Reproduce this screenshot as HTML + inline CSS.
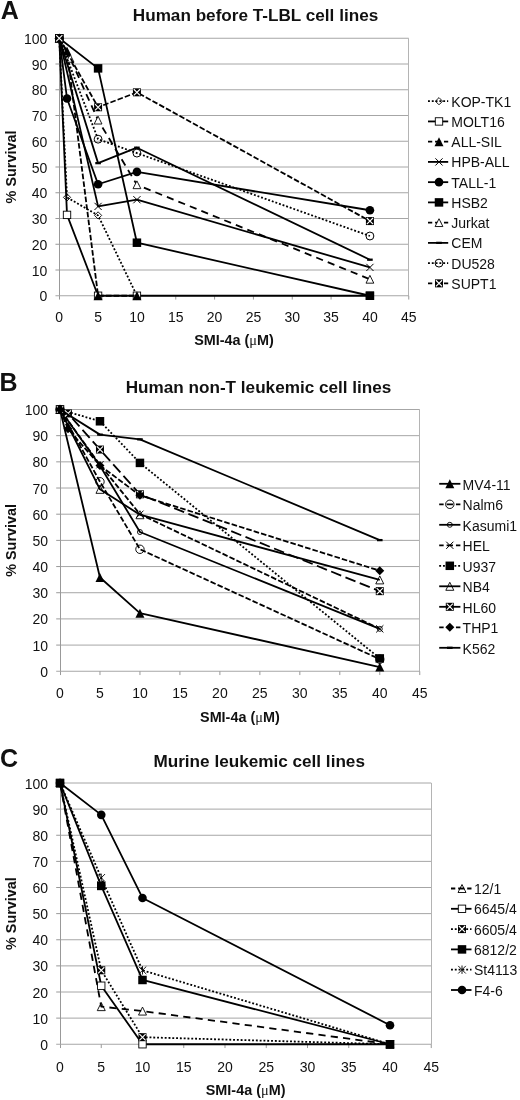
<!DOCTYPE html>
<html lang="en">
<head>
<meta charset="utf-8">
<title>SMI-4a survival curves</title>
<style>
html,body{margin:0;padding:0;background:#fff;}
body{width:520px;height:1100px;overflow:hidden;font-family:"Liberation Sans",sans-serif;}
svg{display:block;will-change:transform;}
text{font-family:"Liberation Sans",sans-serif;fill:#111;}
.tk{font-size:14px;}
.lg{font-size:14px;}
.at{font-size:14.4px;font-weight:bold;}
.mu{font-family:"Liberation Serif",serif;font-weight:normal;}
.tt{font-size:17.15px;font-weight:bold;}
.pl{font-size:25px;font-weight:bold;}
</style>
</head>
<body>
<svg width="520" height="1100" viewBox="0 0 520 1100">
<rect width="520" height="1100" fill="#fff"/>
<g><path d="M59.25 270H408.75" stroke="#a6a6a6" stroke-width="1" fill="none"/>
<path d="M59.25 244.25H408.75" stroke="#a6a6a6" stroke-width="1" fill="none"/>
<path d="M59.25 218.5H408.75" stroke="#a6a6a6" stroke-width="1" fill="none"/>
<path d="M59.25 192.75H408.75" stroke="#a6a6a6" stroke-width="1" fill="none"/>
<path d="M59.25 167H408.75" stroke="#a6a6a6" stroke-width="1" fill="none"/>
<path d="M59.25 141.25H408.75" stroke="#a6a6a6" stroke-width="1" fill="none"/>
<path d="M59.25 115.5H408.75" stroke="#a6a6a6" stroke-width="1" fill="none"/>
<path d="M59.25 89.75H408.75" stroke="#a6a6a6" stroke-width="1" fill="none"/>
<path d="M59.25 64H408.75" stroke="#a6a6a6" stroke-width="1" fill="none"/>
<path d="M59.25 38.25H408.75" stroke="#a6a6a6" stroke-width="1" fill="none"/>
<path d="M408.5 38.25V295.75" stroke="#b4b4b4" stroke-width="1" fill="none"/>
<path d="M59.5 38.25V299.55" stroke="#999999" stroke-width="1" fill="none"/>
<path d="M55.45 295.75H408.75" stroke="#a6a6a6" stroke-width="1.1" fill="none"/>
<path d="M55.45 270H59.25M55.45 244.25H59.25M55.45 218.5H59.25M55.45 192.75H59.25M55.45 167H59.25M55.45 141.25H59.25M55.45 115.5H59.25M55.45 89.75H59.25M55.45 64H59.25M55.45 38.25H59.25M98.08 295.75V299.55M136.92 295.75V299.55M175.75 295.75V299.55M214.58 295.75V299.55M253.42 295.75V299.55M292.25 295.75V299.55M331.08 295.75V299.55M369.92 295.75V299.55M408.75 295.75V299.55" stroke="#999999" stroke-width="1" fill="none"/>
<text x="47.35" y="301.35" text-anchor="end" class="tk">0</text>
<text x="47.35" y="275.6" text-anchor="end" class="tk">10</text>
<text x="47.35" y="249.85" text-anchor="end" class="tk">20</text>
<text x="47.35" y="224.1" text-anchor="end" class="tk">30</text>
<text x="47.35" y="198.35" text-anchor="end" class="tk">40</text>
<text x="47.35" y="172.6" text-anchor="end" class="tk">50</text>
<text x="47.35" y="146.85" text-anchor="end" class="tk">60</text>
<text x="47.35" y="121.1" text-anchor="end" class="tk">70</text>
<text x="47.35" y="95.35" text-anchor="end" class="tk">80</text>
<text x="47.35" y="69.6" text-anchor="end" class="tk">90</text>
<text x="47.35" y="43.85" text-anchor="end" class="tk">100</text>
<text x="59.25" y="322.35" text-anchor="middle" class="tk">0</text>
<text x="98.08" y="322.35" text-anchor="middle" class="tk">5</text>
<text x="136.92" y="322.35" text-anchor="middle" class="tk">10</text>
<text x="175.75" y="322.35" text-anchor="middle" class="tk">15</text>
<text x="214.58" y="322.35" text-anchor="middle" class="tk">20</text>
<text x="253.42" y="322.35" text-anchor="middle" class="tk">25</text>
<text x="292.25" y="322.35" text-anchor="middle" class="tk">30</text>
<text x="331.08" y="322.35" text-anchor="middle" class="tk">35</text>
<text x="369.92" y="322.35" text-anchor="middle" class="tk">40</text>
<text x="408.75" y="322.35" text-anchor="middle" class="tk">45</text>
<text x="234" y="345.45" text-anchor="middle" class="at">SMI-4a (<tspan class="mu">μ</tspan>M)</text>
<text transform="translate(15.6 167) rotate(-90)" text-anchor="middle" class="at">% Survival</text>
<text x="255.5" y="21.3" text-anchor="middle" class="tt">Human before T-LBL cell lines</text>
<text x="0.8" y="18.6" class="pl">A</text>
<path d="M59.25 38.25L67.02 197.38L98.08 215.41L136.92 295.75" stroke="#000" stroke-width="1.8" fill="none" stroke-linejoin="round" stroke-dasharray="1.9 1.9"/>
<path d="M55.65 38.25L59.25 34.65L62.85 38.25L59.25 41.85Z" fill="none" stroke="#000" stroke-width="0.9"/>
<path d="M63.42 197.38L67.02 193.78L70.62 197.38L67.02 200.98Z" fill="none" stroke="#000" stroke-width="0.9"/>
<path d="M94.48 215.41L98.08 211.81L101.68 215.41L98.08 219.01Z" fill="none" stroke="#000" stroke-width="0.9"/>
<path d="M133.32 295.75L136.92 292.15L140.52 295.75L136.92 299.35Z" fill="none" stroke="#000" stroke-width="0.9"/>
<path d="M59.25 38.25L67.02 214.89L98.08 295.75L136.92 295.75L369.92 295.75" stroke="#000" stroke-width="1.8" fill="none" stroke-linejoin="round"/>
<rect x="55.55" y="34.55" width="7.4" height="7.4" fill="#fff" stroke="#000" stroke-width="0.9"/>
<rect x="63.32" y="211.19" width="7.4" height="7.4" fill="#fff" stroke="#000" stroke-width="0.9"/>
<rect x="94.38" y="292.05" width="7.4" height="7.4" fill="#fff" stroke="#000" stroke-width="0.9"/>
<rect x="133.22" y="292.05" width="7.4" height="7.4" fill="#fff" stroke="#000" stroke-width="0.9"/>
<rect x="366.22" y="292.05" width="7.4" height="7.4" fill="#fff" stroke="#000" stroke-width="0.9"/>
<path d="M59.25 38.25L67.02 51.12L98.08 295.75L136.92 295.75" stroke="#000" stroke-width="1.8" fill="none" stroke-linejoin="round" stroke-dasharray="5.6 2.1"/>
<path d="M59.25 33.75L63.75 42.75L54.75 42.75Z" fill="#000"/>
<path d="M67.02 46.62L71.52 55.62L62.52 55.62Z" fill="#000"/>
<path d="M98.08 291.25L102.58 300.25L93.58 300.25Z" fill="#000"/>
<path d="M136.92 291.25L141.42 300.25L132.42 300.25Z" fill="#000"/>
<path d="M59.25 38.25L98.08 206.4L136.92 199.7L369.92 267.43" stroke="#000" stroke-width="1.8" fill="none" stroke-linejoin="round"/>
<path d="M55.65 34.65L62.85 41.85M55.65 41.85L62.85 34.65" stroke="#000" stroke-width="1" fill="none"/>
<path d="M94.48 202.8L101.68 210M94.48 210L101.68 202.8" stroke="#000" stroke-width="1" fill="none"/>
<path d="M133.32 196.1L140.52 203.3M133.32 203.3L140.52 196.1" stroke="#000" stroke-width="1" fill="none"/>
<path d="M366.32 263.82L373.52 271.03M366.32 271.03L373.52 263.82" stroke="#000" stroke-width="1" fill="none"/>
<path d="M59.25 38.25L67.02 98.5L98.08 184.25L136.92 171.89L369.92 210.26" stroke="#000" stroke-width="1.8" fill="none" stroke-linejoin="round"/>
<circle cx="59.25" cy="38.25" r="4.3" fill="#000"/>
<circle cx="67.02" cy="98.5" r="4.3" fill="#000"/>
<circle cx="98.08" cy="184.25" r="4.3" fill="#000"/>
<circle cx="136.92" cy="171.89" r="4.3" fill="#000"/>
<circle cx="369.92" cy="210.26" r="4.3" fill="#000"/>
<path d="M59.25 38.25L98.08 68.38L136.92 242.7L369.92 295.75" stroke="#000" stroke-width="1.8" fill="none" stroke-linejoin="round"/>
<rect x="55" y="34" width="8.5" height="8.5" fill="#000"/>
<rect x="93.83" y="64.13" width="8.5" height="8.5" fill="#000"/>
<rect x="132.67" y="238.45" width="8.5" height="8.5" fill="#000"/>
<rect x="365.67" y="291.5" width="8.5" height="8.5" fill="#000"/>
<path d="M59.25 38.25L70.12 58.33L98.08 120.13L136.92 184.77L369.92 279.27" stroke="#000" stroke-width="1.8" fill="none" stroke-linejoin="round" stroke-dasharray="7.2 5.2"/>
<path d="M59.25 34.35L63.15 42.15L55.35 42.15Z" fill="#fff" stroke="#000" stroke-width="0.9"/>
<path d="M70.12 54.43L74.02 62.23L66.22 62.23Z" fill="#fff" stroke="#000" stroke-width="0.9"/>
<path d="M98.08 116.23L101.98 124.03L94.18 124.03Z" fill="#fff" stroke="#000" stroke-width="0.9"/>
<path d="M136.92 180.87L140.82 188.67L133.02 188.67Z" fill="#fff" stroke="#000" stroke-width="0.9"/>
<path d="M369.92 275.37L373.82 283.17L366.02 283.17Z" fill="#fff" stroke="#000" stroke-width="0.9"/>
<path d="M59.25 38.25L98.08 163.14L136.92 147.69L369.92 259.7" stroke="#000" stroke-width="1.8" fill="none" stroke-linejoin="round"/>
<path d="M56.45 38.25L62.05 38.25" stroke="#000" stroke-width="2.3" fill="none"/>
<path d="M95.28 163.14L100.88 163.14" stroke="#000" stroke-width="2.3" fill="none"/>
<path d="M134.12 147.69L139.72 147.69" stroke="#000" stroke-width="2.3" fill="none"/>
<path d="M367.12 259.7L372.72 259.7" stroke="#000" stroke-width="2.3" fill="none"/>
<path d="M59.25 38.25L98.08 139.19L136.92 153.09L369.92 236.01" stroke="#000" stroke-width="1.8" fill="none" stroke-linejoin="round" stroke-dasharray="1.9 1.9"/>
<circle cx="59.25" cy="38.25" r="3.95" fill="none" stroke="#000" stroke-width="1"/>
<circle cx="98.08" cy="139.19" r="3.95" fill="none" stroke="#000" stroke-width="1"/>
<circle cx="136.92" cy="153.09" r="3.95" fill="none" stroke="#000" stroke-width="1"/>
<circle cx="369.92" cy="236.01" r="3.95" fill="none" stroke="#000" stroke-width="1"/>
<path d="M59.25 38.25L98.08 107.26L136.92 92.32L369.92 221.07" stroke="#000" stroke-width="1.8" fill="none" stroke-linejoin="round" stroke-dasharray="5.6 2.1"/>
<rect x="55.25" y="34.25" width="8" height="8" fill="#000"/><path d="M56.15 35.15L62.35 41.35M56.15 41.35L62.35 35.15" stroke="#fff" stroke-width="1.15" fill="none"/>
<rect x="94.08" y="103.26" width="8" height="8" fill="#000"/><path d="M94.98 104.16L101.18 110.36M94.98 110.36L101.18 104.16" stroke="#fff" stroke-width="1.15" fill="none"/>
<rect x="132.92" y="88.32" width="8" height="8" fill="#000"/><path d="M133.82 89.22L140.02 95.42M133.82 95.42L140.02 89.22" stroke="#fff" stroke-width="1.15" fill="none"/>
<rect x="365.92" y="217.07" width="8" height="8" fill="#000"/><path d="M366.82 217.97L373.02 224.17M366.82 224.17L373.02 217.97" stroke="#fff" stroke-width="1.15" fill="none"/>
<path d="M428 101.2H448.2" stroke="#000" stroke-width="1.8" fill="none" stroke-dasharray="1.9 1.9"/>
<path d="M435.4 101.2L439 97.6L442.6 101.2L439 104.8Z" fill="none" stroke="#000" stroke-width="0.9"/>
<text x="451.3" y="106.6" class="lg">KOP-TK1</text>
<path d="M428 121.44H448.2" stroke="#000" stroke-width="1.8" fill="none"/>
<rect x="435.3" y="117.74" width="7.4" height="7.4" fill="#fff" stroke="#000" stroke-width="0.9"/>
<text x="451.3" y="126.84" class="lg">MOLT16</text>
<path d="M428 141.68H448.2" stroke="#000" stroke-width="1.8" fill="none" stroke-dasharray="4.24 2.83 6.06 2.83 4.24"/>
<path d="M439 137.18L443.5 146.18L434.5 146.18Z" fill="#000"/>
<text x="451.3" y="147.08" class="lg">ALL-SIL</text>
<path d="M428 161.92H448.2" stroke="#000" stroke-width="1.8" fill="none"/>
<path d="M435.4 158.32L442.6 165.52M435.4 165.52L442.6 158.32" stroke="#000" stroke-width="1" fill="none"/>
<text x="451.3" y="167.32" class="lg">HPB-ALL</text>
<path d="M428 182.16H448.2" stroke="#000" stroke-width="1.8" fill="none"/>
<circle cx="439" cy="182.16" r="4.3" fill="#000"/>
<text x="451.3" y="187.56" class="lg">TALL-1</text>
<path d="M428 202.4H448.2" stroke="#000" stroke-width="1.8" fill="none"/>
<rect x="434.75" y="198.15" width="8.5" height="8.5" fill="#000"/>
<text x="451.3" y="207.8" class="lg">HSB2</text>
<path d="M428 222.64H448.2" stroke="#000" stroke-width="1.8" fill="none" stroke-dasharray="4.24 2.83 6.06 2.83 4.24"/>
<path d="M439 218.74L442.9 226.54L435.1 226.54Z" fill="#fff" stroke="#000" stroke-width="0.9"/>
<text x="451.3" y="228.04" class="lg">Jurkat</text>
<path d="M428 242.88H448.2" stroke="#000" stroke-width="1.8" fill="none"/>
<path d="M436.2 242.88L441.8 242.88" stroke="#000" stroke-width="2.3" fill="none"/>
<text x="451.3" y="248.28" class="lg">CEM</text>
<path d="M428 263.12H448.2" stroke="#000" stroke-width="1.8" fill="none" stroke-dasharray="1.9 1.9"/>
<circle cx="439" cy="263.12" r="3.95" fill="none" stroke="#000" stroke-width="1"/>
<text x="451.3" y="268.52" class="lg">DU528</text>
<path d="M428 283.36H448.2" stroke="#000" stroke-width="1.8" fill="none" stroke-dasharray="4.24 2.83 6.06 2.83 4.24"/>
<rect x="435" y="279.36" width="8" height="8" fill="#000"/><path d="M435.9 280.26L442.1 286.46M435.9 286.46L442.1 280.26" stroke="#fff" stroke-width="1.15" fill="none"/>
<text x="451.3" y="288.76" class="lg">SUPT1</text></g>
<g><path d="M60 645.08H419.75" stroke="#a6a6a6" stroke-width="1" fill="none"/>
<path d="M60 618.9H419.75" stroke="#a6a6a6" stroke-width="1" fill="none"/>
<path d="M60 592.73H419.75" stroke="#a6a6a6" stroke-width="1" fill="none"/>
<path d="M60 566.55H419.75" stroke="#a6a6a6" stroke-width="1" fill="none"/>
<path d="M60 540.38H419.75" stroke="#a6a6a6" stroke-width="1" fill="none"/>
<path d="M60 514.2H419.75" stroke="#a6a6a6" stroke-width="1" fill="none"/>
<path d="M60 488.02H419.75" stroke="#a6a6a6" stroke-width="1" fill="none"/>
<path d="M60 461.85H419.75" stroke="#a6a6a6" stroke-width="1" fill="none"/>
<path d="M60 435.67H419.75" stroke="#a6a6a6" stroke-width="1" fill="none"/>
<path d="M60 409.5H419.75" stroke="#a6a6a6" stroke-width="1" fill="none"/>
<path d="M419.5 409.5V671.25" stroke="#b4b4b4" stroke-width="1" fill="none"/>
<path d="M60.5 409.5V675.05" stroke="#999999" stroke-width="1" fill="none"/>
<path d="M56.2 671.25H419.75" stroke="#a6a6a6" stroke-width="1.1" fill="none"/>
<path d="M56.2 645.08H60M56.2 618.9H60M56.2 592.73H60M56.2 566.55H60M56.2 540.38H60M56.2 514.2H60M56.2 488.02H60M56.2 461.85H60M56.2 435.67H60M56.2 409.5H60M99.97 671.25V675.05M139.94 671.25V675.05M179.92 671.25V675.05M219.89 671.25V675.05M259.86 671.25V675.05M299.83 671.25V675.05M339.81 671.25V675.05M379.78 671.25V675.05M419.75 671.25V675.05" stroke="#999999" stroke-width="1" fill="none"/>
<text x="48.1" y="676.75" text-anchor="end" class="tk">0</text>
<text x="48.1" y="650.58" text-anchor="end" class="tk">10</text>
<text x="48.1" y="624.4" text-anchor="end" class="tk">20</text>
<text x="48.1" y="598.23" text-anchor="end" class="tk">30</text>
<text x="48.1" y="572.05" text-anchor="end" class="tk">40</text>
<text x="48.1" y="545.88" text-anchor="end" class="tk">50</text>
<text x="48.1" y="519.7" text-anchor="end" class="tk">60</text>
<text x="48.1" y="493.52" text-anchor="end" class="tk">70</text>
<text x="48.1" y="467.35" text-anchor="end" class="tk">80</text>
<text x="48.1" y="441.17" text-anchor="end" class="tk">90</text>
<text x="48.1" y="415" text-anchor="end" class="tk">100</text>
<text x="60" y="698.25" text-anchor="middle" class="tk">0</text>
<text x="99.97" y="698.25" text-anchor="middle" class="tk">5</text>
<text x="139.94" y="698.25" text-anchor="middle" class="tk">10</text>
<text x="179.92" y="698.25" text-anchor="middle" class="tk">15</text>
<text x="219.89" y="698.25" text-anchor="middle" class="tk">20</text>
<text x="259.86" y="698.25" text-anchor="middle" class="tk">25</text>
<text x="299.83" y="698.25" text-anchor="middle" class="tk">30</text>
<text x="339.81" y="698.25" text-anchor="middle" class="tk">35</text>
<text x="379.78" y="698.25" text-anchor="middle" class="tk">40</text>
<text x="419.75" y="698.25" text-anchor="middle" class="tk">45</text>
<text x="239.88" y="721.65" text-anchor="middle" class="at">SMI-4a (<tspan class="mu">μ</tspan>M)</text>
<text transform="translate(15.7 540.38) rotate(-90)" text-anchor="middle" class="at">% Survival</text>
<text x="258.5" y="392.8" text-anchor="middle" class="tt">Human non-T leukemic cell lines</text>
<text x="-0.5" y="391.2" class="pl">B</text>
<path d="M60 409.5L99.97 577.54L139.94 613.14L379.78 667.06" stroke="#000" stroke-width="1.8" fill="none" stroke-linejoin="round"/>
<path d="M60 405L64.5 414L55.5 414Z" fill="#000"/>
<path d="M99.97 573.04L104.47 582.04L95.47 582.04Z" fill="#000"/>
<path d="M139.94 608.64L144.44 617.64L135.44 617.64Z" fill="#000"/>
<path d="M379.78 662.56L384.28 671.56L375.28 671.56Z" fill="#000"/>
<path d="M60 409.5L99.97 481.74L139.94 549.27L379.78 659.21" stroke="#000" stroke-width="1.8" fill="none" stroke-linejoin="round" stroke-dasharray="5.6 2.1"/>
<circle cx="60" cy="409.5" r="4.2" fill="none" stroke="#000" stroke-width="0.95"/>
<circle cx="99.97" cy="481.74" r="4.2" fill="none" stroke="#000" stroke-width="0.95"/>
<circle cx="139.94" cy="549.27" r="4.2" fill="none" stroke="#000" stroke-width="0.95"/>
<circle cx="379.78" cy="659.21" r="4.2" fill="none" stroke="#000" stroke-width="0.95"/>
<path d="M60 409.5L99.97 465.78L139.94 532L379.78 628.85" stroke="#000" stroke-width="1.8" fill="none" stroke-linejoin="round"/>
<circle cx="60" cy="409.5" r="2.5" fill="none" stroke="#000" stroke-width="0.9"/>
<circle cx="99.97" cy="465.78" r="2.5" fill="none" stroke="#000" stroke-width="0.9"/>
<circle cx="139.94" cy="532" r="2.5" fill="none" stroke="#000" stroke-width="0.9"/>
<circle cx="379.78" cy="628.85" r="2.5" fill="none" stroke="#000" stroke-width="0.9"/>
<path d="M60 409.5L99.97 464.73L139.94 514.2L379.78 628.85" stroke="#000" stroke-width="1.8" fill="none" stroke-linejoin="round" stroke-dasharray="5.6 2.1"/>
<path d="M56.4 405.9L63.6 413.1M56.4 413.1L63.6 405.9" stroke="#000" stroke-width="1" fill="none"/>
<path d="M96.37 461.13L103.57 468.33M96.37 468.33L103.57 461.13" stroke="#000" stroke-width="1" fill="none"/>
<path d="M136.34 510.6L143.54 517.8M136.34 517.8L143.54 510.6" stroke="#000" stroke-width="1" fill="none"/>
<path d="M376.18 625.25L383.38 632.45M376.18 632.45L383.38 625.25" stroke="#000" stroke-width="1" fill="none"/>
<path d="M60 409.5L99.97 421.28L139.94 462.9L379.78 658.42" stroke="#000" stroke-width="1.8" fill="none" stroke-linejoin="round" stroke-dasharray="1.9 1.9"/>
<rect x="55.75" y="405.25" width="8.5" height="8.5" fill="#000"/>
<rect x="95.72" y="417.03" width="8.5" height="8.5" fill="#000"/>
<rect x="135.69" y="458.65" width="8.5" height="8.5" fill="#000"/>
<rect x="375.53" y="654.17" width="8.5" height="8.5" fill="#000"/>
<path d="M60 409.5L99.97 489.33L139.94 514.72L379.78 579.9" stroke="#000" stroke-width="1.8" fill="none" stroke-linejoin="round"/>
<path d="M60 405.5L64 413.5L56 413.5Z" fill="none" stroke="#000" stroke-width="0.9"/>
<path d="M99.97 485.33L103.97 493.33L95.97 493.33Z" fill="none" stroke="#000" stroke-width="0.9"/>
<path d="M139.94 510.72L143.94 518.72L135.94 518.72Z" fill="none" stroke="#000" stroke-width="0.9"/>
<path d="M379.78 575.9L383.78 583.9L375.78 583.9Z" fill="none" stroke="#000" stroke-width="0.9"/>
<path d="M60 409.5L67.99 413.43L99.97 449.55L139.94 494.31L379.78 591.15" stroke="#000" stroke-width="1.8" fill="none" stroke-linejoin="round" stroke-dasharray="10.8 4.6"/>
<rect x="56" y="405.5" width="8" height="8" fill="#000"/><path d="M56.9 406.4L63.1 412.6M56.9 412.6L63.1 406.4" stroke="#fff" stroke-width="1.15" fill="none"/>
<rect x="63.99" y="409.43" width="8" height="8" fill="#000"/><path d="M64.89 410.33L71.09 416.53M64.89 416.53L71.09 410.33" stroke="#fff" stroke-width="1.15" fill="none"/>
<rect x="95.97" y="445.55" width="8" height="8" fill="#000"/><path d="M96.87 446.45L103.07 452.65M96.87 452.65L103.07 446.45" stroke="#fff" stroke-width="1.15" fill="none"/>
<rect x="135.94" y="490.31" width="8" height="8" fill="#000"/><path d="M136.84 491.21L143.04 497.41M136.84 497.41L143.04 491.21" stroke="#fff" stroke-width="1.15" fill="none"/>
<rect x="375.78" y="587.15" width="8" height="8" fill="#000"/><path d="M376.68 588.05L382.88 594.25M376.68 594.25L382.88 588.05" stroke="#fff" stroke-width="1.15" fill="none"/>
<path d="M60 409.5L67.99 428.87L99.97 465.51L139.94 495.35L379.78 570.74" stroke="#000" stroke-width="1.8" fill="none" stroke-linejoin="round" stroke-dasharray="5.6 2.1"/>
<path d="M55.5 409.5L60 405L64.5 409.5L60 414Z" fill="#000"/>
<path d="M63.49 428.87L67.99 424.37L72.49 428.87L67.99 433.37Z" fill="#000"/>
<path d="M95.47 465.51L99.97 461.01L104.47 465.51L99.97 470.01Z" fill="#000"/>
<path d="M135.44 495.35L139.94 490.85L144.44 495.35L139.94 499.85Z" fill="#000"/>
<path d="M375.28 570.74L379.78 566.24L384.28 570.74L379.78 575.24Z" fill="#000"/>
<path d="M60 409.5L99.97 434.63L139.94 439.34L379.78 540.11" stroke="#000" stroke-width="1.8" fill="none" stroke-linejoin="round"/>
<path d="M57.2 409.5L62.8 409.5" stroke="#000" stroke-width="2.3" fill="none"/>
<path d="M97.17 434.63L102.77 434.63" stroke="#000" stroke-width="2.3" fill="none"/>
<path d="M137.14 439.34L142.74 439.34" stroke="#000" stroke-width="2.3" fill="none"/>
<path d="M376.98 540.11L382.58 540.11" stroke="#000" stroke-width="2.3" fill="none"/>
<path d="M439.2 483.8H460.4" stroke="#000" stroke-width="1.8" fill="none"/>
<path d="M449.8 479.3L454.3 488.3L445.3 488.3Z" fill="#000"/>
<text x="462.6" y="489.7" class="lg">MV4-11</text>
<path d="M439.2 504.3H460.4" stroke="#000" stroke-width="1.8" fill="none" stroke-dasharray="4.45 2.97 6.36 2.97 4.45"/>
<circle cx="449.8" cy="504.3" r="4.2" fill="none" stroke="#000" stroke-width="0.95"/>
<text x="462.6" y="510.2" class="lg">Nalm6</text>
<path d="M439.2 524.8H460.4" stroke="#000" stroke-width="1.8" fill="none"/>
<circle cx="449.8" cy="524.8" r="2.5" fill="none" stroke="#000" stroke-width="0.9"/>
<text x="462.6" y="530.7" class="lg">Kasumi1</text>
<path d="M439.2 545.3H460.4" stroke="#000" stroke-width="1.8" fill="none" stroke-dasharray="4.45 2.97 6.36 2.97 4.45"/>
<path d="M446.2 541.7L453.4 548.9M446.2 548.9L453.4 541.7" stroke="#000" stroke-width="1" fill="none"/>
<text x="462.6" y="551.2" class="lg">HEL</text>
<path d="M439.2 565.8H460.4" stroke="#000" stroke-width="1.8" fill="none" stroke-dasharray="1.9 1.9"/>
<rect x="445.55" y="561.55" width="8.5" height="8.5" fill="#000"/>
<text x="462.6" y="571.7" class="lg">U937</text>
<path d="M439.2 586.3H460.4" stroke="#000" stroke-width="1.8" fill="none"/>
<path d="M449.8 582.3L453.8 590.3L445.8 590.3Z" fill="none" stroke="#000" stroke-width="0.9"/>
<text x="462.6" y="592.2" class="lg">NB4</text>
<path d="M439.2 606.8H460.4" stroke="#000" stroke-width="1.8" fill="none"/>
<rect x="445.8" y="602.8" width="8" height="8" fill="#000"/><path d="M446.7 603.7L452.9 609.9M446.7 609.9L452.9 603.7" stroke="#fff" stroke-width="1.15" fill="none"/>
<text x="462.6" y="612.7" class="lg">HL60</text>
<path d="M439.2 627.3H460.4" stroke="#000" stroke-width="1.8" fill="none" stroke-dasharray="4.45 2.97 6.36 2.97 4.45"/>
<path d="M445.3 627.3L449.8 622.8L454.3 627.3L449.8 631.8Z" fill="#000"/>
<text x="462.6" y="633.2" class="lg">THP1</text>
<path d="M439.2 647.8H460.4" stroke="#000" stroke-width="1.8" fill="none"/>
<path d="M447 647.8L452.6 647.8" stroke="#000" stroke-width="2.3" fill="none"/>
<text x="462.6" y="653.7" class="lg">K562</text></g>
<g><path d="M60 1018.12H431.25" stroke="#a6a6a6" stroke-width="1" fill="none"/>
<path d="M60 992H431.25" stroke="#a6a6a6" stroke-width="1" fill="none"/>
<path d="M60 965.88H431.25" stroke="#a6a6a6" stroke-width="1" fill="none"/>
<path d="M60 939.75H431.25" stroke="#a6a6a6" stroke-width="1" fill="none"/>
<path d="M60 913.62H431.25" stroke="#a6a6a6" stroke-width="1" fill="none"/>
<path d="M60 887.5H431.25" stroke="#a6a6a6" stroke-width="1" fill="none"/>
<path d="M60 861.38H431.25" stroke="#a6a6a6" stroke-width="1" fill="none"/>
<path d="M60 835.25H431.25" stroke="#a6a6a6" stroke-width="1" fill="none"/>
<path d="M60 809.12H431.25" stroke="#a6a6a6" stroke-width="1" fill="none"/>
<path d="M60 783H431.25" stroke="#a6a6a6" stroke-width="1" fill="none"/>
<path d="M431.5 783V1044.25" stroke="#b4b4b4" stroke-width="1" fill="none"/>
<path d="M60.5 783V1048.05" stroke="#999999" stroke-width="1" fill="none"/>
<path d="M56.2 1044.25H431.25" stroke="#a6a6a6" stroke-width="1.1" fill="none"/>
<path d="M56.2 1018.12H60M56.2 992H60M56.2 965.88H60M56.2 939.75H60M56.2 913.62H60M56.2 887.5H60M56.2 861.38H60M56.2 835.25H60M56.2 809.12H60M56.2 783H60M101.25 1044.25V1048.05M142.5 1044.25V1048.05M183.75 1044.25V1048.05M225 1044.25V1048.05M266.25 1044.25V1048.05M307.5 1044.25V1048.05M348.75 1044.25V1048.05M390 1044.25V1048.05M431.25 1044.25V1048.05" stroke="#999999" stroke-width="1" fill="none"/>
<text x="48.1" y="1049.75" text-anchor="end" class="tk">0</text>
<text x="48.1" y="1023.62" text-anchor="end" class="tk">10</text>
<text x="48.1" y="997.5" text-anchor="end" class="tk">20</text>
<text x="48.1" y="971.38" text-anchor="end" class="tk">30</text>
<text x="48.1" y="945.25" text-anchor="end" class="tk">40</text>
<text x="48.1" y="919.12" text-anchor="end" class="tk">50</text>
<text x="48.1" y="893" text-anchor="end" class="tk">60</text>
<text x="48.1" y="866.88" text-anchor="end" class="tk">70</text>
<text x="48.1" y="840.75" text-anchor="end" class="tk">80</text>
<text x="48.1" y="814.62" text-anchor="end" class="tk">90</text>
<text x="48.1" y="788.5" text-anchor="end" class="tk">100</text>
<text x="60" y="1071.95" text-anchor="middle" class="tk">0</text>
<text x="101.25" y="1071.95" text-anchor="middle" class="tk">5</text>
<text x="142.5" y="1071.95" text-anchor="middle" class="tk">10</text>
<text x="183.75" y="1071.95" text-anchor="middle" class="tk">15</text>
<text x="225" y="1071.95" text-anchor="middle" class="tk">20</text>
<text x="266.25" y="1071.95" text-anchor="middle" class="tk">25</text>
<text x="307.5" y="1071.95" text-anchor="middle" class="tk">30</text>
<text x="348.75" y="1071.95" text-anchor="middle" class="tk">35</text>
<text x="390" y="1071.95" text-anchor="middle" class="tk">40</text>
<text x="431.25" y="1071.95" text-anchor="middle" class="tk">45</text>
<text x="245.62" y="1094.85" text-anchor="middle" class="at">SMI-4a (<tspan class="mu">μ</tspan>M)</text>
<text transform="translate(15.5 913.62) rotate(-90)" text-anchor="middle" class="at">% Survival</text>
<text x="259.2" y="766.6" text-anchor="middle" class="tt">Murine leukemic cell lines</text>
<text x="0" y="767" class="pl">C</text>
<path d="M60 783L101.25 1006.63L142.5 1011.07L390 1044.25" stroke="#000" stroke-width="1.8" fill="none" stroke-linejoin="round" stroke-dasharray="7.2 5.2"/>
<path d="M60 779L64 787L56 787Z" fill="none" stroke="#000" stroke-width="0.9"/>
<path d="M101.25 1002.63L105.25 1010.63L97.25 1010.63Z" fill="none" stroke="#000" stroke-width="0.9"/>
<path d="M142.5 1007.07L146.5 1015.07L138.5 1015.07Z" fill="none" stroke="#000" stroke-width="0.9"/>
<path d="M390 1040.25L394 1048.25L386 1048.25Z" fill="none" stroke="#000" stroke-width="0.9"/>
<path d="M60 783L101.25 985.73L142.5 1044.25L390 1044.25" stroke="#000" stroke-width="1.8" fill="none" stroke-linejoin="round"/>
<rect x="56.3" y="779.3" width="7.4" height="7.4" fill="#fff" stroke="#000" stroke-width="0.9"/>
<rect x="97.55" y="982.03" width="7.4" height="7.4" fill="#fff" stroke="#000" stroke-width="0.9"/>
<rect x="138.8" y="1040.55" width="7.4" height="7.4" fill="#fff" stroke="#000" stroke-width="0.9"/>
<rect x="386.3" y="1040.55" width="7.4" height="7.4" fill="#fff" stroke="#000" stroke-width="0.9"/>
<path d="M60 783L101.25 970.32L142.5 1037.2L390 1044.25" stroke="#000" stroke-width="1.8" fill="none" stroke-linejoin="round" stroke-dasharray="1.9 1.9"/>
<rect x="56" y="779" width="8" height="8" fill="#000"/><path d="M56.9 779.9L63.1 786.1M56.9 786.1L63.1 779.9" stroke="#fff" stroke-width="1.15" fill="none"/>
<rect x="97.25" y="966.32" width="8" height="8" fill="#000"/><path d="M98.15 967.22L104.35 973.42M98.15 973.42L104.35 967.22" stroke="#fff" stroke-width="1.15" fill="none"/>
<rect x="138.5" y="1033.2" width="8" height="8" fill="#000"/><path d="M139.4 1034.1L145.6 1040.3M139.4 1040.3L145.6 1034.1" stroke="#fff" stroke-width="1.15" fill="none"/>
<rect x="386" y="1040.25" width="8" height="8" fill="#000"/><path d="M386.9 1041.15L393.1 1047.35M386.9 1047.35L393.1 1041.15" stroke="#fff" stroke-width="1.15" fill="none"/>
<path d="M60 783L101.25 885.93L142.5 979.98L390 1044.25" stroke="#000" stroke-width="1.8" fill="none" stroke-linejoin="round"/>
<rect x="55.75" y="778.75" width="8.5" height="8.5" fill="#000"/>
<rect x="97" y="881.68" width="8.5" height="8.5" fill="#000"/>
<rect x="138.25" y="975.73" width="8.5" height="8.5" fill="#000"/>
<rect x="385.75" y="1040" width="8.5" height="8.5" fill="#000"/>
<path d="M60 783L101.25 877.83L142.5 970.32L390 1044.25" stroke="#000" stroke-width="1.8" fill="none" stroke-linejoin="round" stroke-dasharray="1.9 1.9"/>
<path d="M56.2 779.2L63.8 786.8M56.2 786.8L63.8 779.2M60 778.8L60 787.2" stroke="#000" stroke-width="0.9" fill="none"/>
<path d="M97.45 874.03L105.05 881.63M97.45 881.63L105.05 874.03M101.25 873.63L101.25 882.03" stroke="#000" stroke-width="0.9" fill="none"/>
<path d="M138.7 966.52L146.3 974.12M138.7 974.12L146.3 966.52M142.5 966.12L142.5 974.52" stroke="#000" stroke-width="0.9" fill="none"/>
<path d="M386.2 1040.45L393.8 1048.05M386.2 1048.05L393.8 1040.45M390 1040.05L390 1048.45" stroke="#000" stroke-width="0.9" fill="none"/>
<path d="M60 783L101.25 814.87L142.5 897.95L390 1025.18" stroke="#000" stroke-width="1.8" fill="none" stroke-linejoin="round"/>
<circle cx="60" cy="783" r="4.3" fill="#000"/>
<circle cx="101.25" cy="814.87" r="4.3" fill="#000"/>
<circle cx="142.5" cy="897.95" r="4.3" fill="#000"/>
<circle cx="390" cy="1025.18" r="4.3" fill="#000"/>
<path d="M451 888.5H471.5" stroke="#000" stroke-width="1.8" fill="none" stroke-dasharray="4.3 2.87 6.15 2.87 4.3"/>
<path d="M462 884.5L466 892.5L458 892.5Z" fill="none" stroke="#000" stroke-width="0.9"/>
<text x="474" y="894" class="lg">12/1</text>
<path d="M451 908.8H471.5" stroke="#000" stroke-width="1.8" fill="none"/>
<rect x="458.3" y="905.1" width="7.4" height="7.4" fill="#fff" stroke="#000" stroke-width="0.9"/>
<text x="474" y="914.3" class="lg">6645/4</text>
<path d="M451 929.1H471.5" stroke="#000" stroke-width="1.8" fill="none" stroke-dasharray="1.9 1.9"/>
<rect x="458" y="925.1" width="8" height="8" fill="#000"/><path d="M458.9 926L465.1 932.2M458.9 932.2L465.1 926" stroke="#fff" stroke-width="1.15" fill="none"/>
<text x="474" y="934.6" class="lg">6605/4</text>
<path d="M451 949.4H471.5" stroke="#000" stroke-width="1.8" fill="none"/>
<rect x="457.75" y="945.15" width="8.5" height="8.5" fill="#000"/>
<text x="474" y="954.9" class="lg">6812/2</text>
<path d="M451 969.7H471.5" stroke="#000" stroke-width="1.8" fill="none" stroke-dasharray="1.9 1.9"/>
<path d="M458.2 965.9L465.8 973.5M458.2 973.5L465.8 965.9M462 965.5L462 973.9" stroke="#000" stroke-width="0.9" fill="none"/>
<text x="474" y="975.2" class="lg">St4113</text>
<path d="M451 990H471.5" stroke="#000" stroke-width="1.8" fill="none"/>
<circle cx="462" cy="990" r="4.3" fill="#000"/>
<text x="474" y="995.5" class="lg">F4-6</text></g>
</svg>
</body>
</html>
